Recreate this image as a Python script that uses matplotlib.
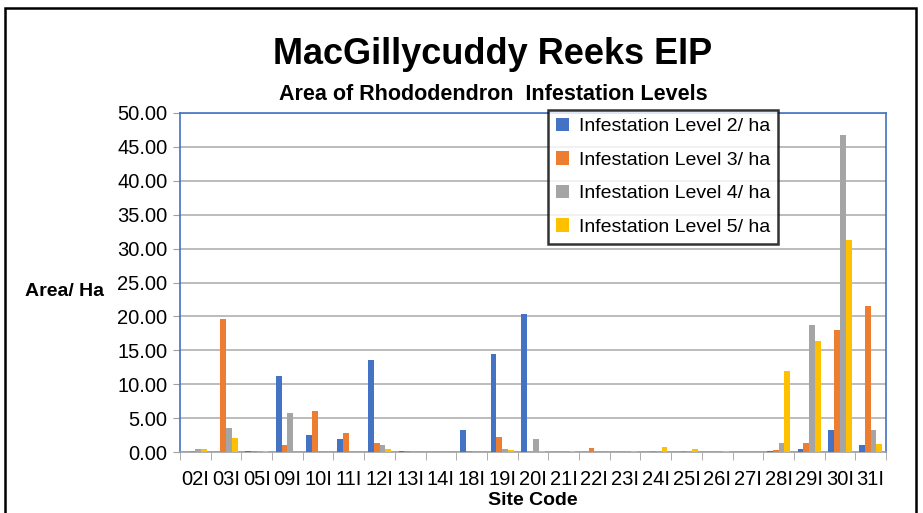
import matplotlib.pyplot as plt
import matplotlib
import numpy as np
from matplotlib.patches import Rectangle

matplotlib.rcParams['font.family'] = 'Liberation Sans'

sites = ['02I', '03I', '05I', '09I', '10I', '11I', '12I', '13I', '14I', '18I', '19I', '20I',
         '21I', '22I', '23I', '24I', '25I', '26I', '27I', '28I', '29I', '30I', '31I']
level2 = [0.05, 0.0, 0.1, 11.2, 2.5, 1.9, 13.6, 0.1, 0.05, 3.2, 14.5, 20.3,
          0.05, 0.0, 0.05, 0.0, 0.0, 0.05, 0.05, 0.2, 0.5, 3.3, 1.0]
level3 = [0.2, 19.6, 0.2, 1.0, 6.1, 2.8, 1.4, 0.15, 0.0, 0.1, 2.2, 0.0,
          0.0, 0.6, 0.0, 0.1, 0.15, 0.0, 0.0, 0.3, 1.3, 18.0, 21.5]
level4 = [0.5, 3.5, 0.1, 5.7, 0.0, 0.1, 1.0, 0.1, 0.1, 0.1, 0.5, 1.9,
          0.0, 0.05, 0.1, 0.1, 0.1, 0.1, 0.1, 1.4, 18.7, 46.8, 3.3]
level5 = [0.5, 2.1, 0.2, 0.0, 0.0, 0.0, 0.4, 0.0, 0.0, 0.0, 0.3, 0.15,
          0.15, 0.0, 0.1, 0.7, 0.4, 0.1, 0.0, 12.0, 16.3, 31.2, 1.2]
series_names = ['Infestation Level 2/ ha', 'Infestation Level 3/ ha',
                'Infestation Level 4/ ha', 'Infestation Level 5/ ha']
colors = ['#4472C4', '#ED7D31', '#A5A5A5', '#FFC000']

fig = plt.figure(figsize=(9.23, 5.13), dpi=100)
ax = fig.add_axes([180 / 923, 1 - 452 / 513, 706 / 923, 339 / 513])

x = np.arange(len(sites))
w = 0.19
for i, (vals, name, c) in enumerate(zip([level2, level3, level4, level5], series_names, colors)):
    ax.bar(x + (i - 1.5) * w, vals, w, color=c, label=name, zorder=3)

ax.set_xlim(-0.5, len(sites) - 0.5)
ax.set_ylim(0, 50)
ax.set_yticks(np.arange(0, 50.01, 5))
ax.set_yticklabels([f'{v:.2f}' for v in np.arange(0, 50.01, 5)], fontsize=14.5)
ax.set_xticks(x)
ax.set_xticklabels(sites, fontsize=14.5)
ax.set_xticks(np.arange(-0.5, len(sites), 1), minor=True)
ax.tick_params(axis='x', which='major', length=0, pad=13)
ax.tick_params(axis='x', which='minor', length=6, color='#A0A0A0')
ax.tick_params(axis='y', length=5, color='#A0A0A0', pad=4)
ax.grid(axis='y', color='#B0B0B0', linewidth=1.2, zorder=0)
for s in ['left', 'top', 'right']:
    ax.spines[s].set_color('#4472C4')
    ax.spines[s].set_linewidth(1.2)
ax.spines['bottom'].set_color('#A0A0A0')
ax.spines['bottom'].set_linewidth(1.2)

ax.set_xlabel('Site Code', fontsize=14, fontweight='bold', labelpad=2)
fig.text(25 / 923, 1 - 292 / 513, 'Area/ Ha', fontsize=14, fontweight='bold', va='center')

fig.text(493 / 923, 1 - 55 / 513, 'MacGillycuddy Reeks EIP', fontsize=26,
         fontweight='bold', ha='center', va='center')
fig.text(493 / 923, 1 - 95 / 513, 'Area of Rhododendron  Infestation Levels', fontsize=15.5,
         fontweight='bold', ha='center', va='center')

leg = ax.legend(loc='upper left', bbox_to_anchor=(368 / 706, 1.009), fontsize=14,
                frameon=True, fancybox=False, handlelength=0.7, handleheight=0.7,
                labelspacing=0.82, borderpad=0.4, handletextpad=0.5, borderaxespad=0)
leg.get_frame().set_edgecolor('black')
leg.get_frame().set_linewidth(1.8)
leg.set_zorder(5)

fig.patches.append(Rectangle((5 / 923, -0.05), 911 / 923, 1.05 - 8 / 513,
                             transform=fig.transFigure, fill=False,
                             edgecolor='black', linewidth=1.8))

plt.savefig('out.png', dpi=100)
plt.close()
